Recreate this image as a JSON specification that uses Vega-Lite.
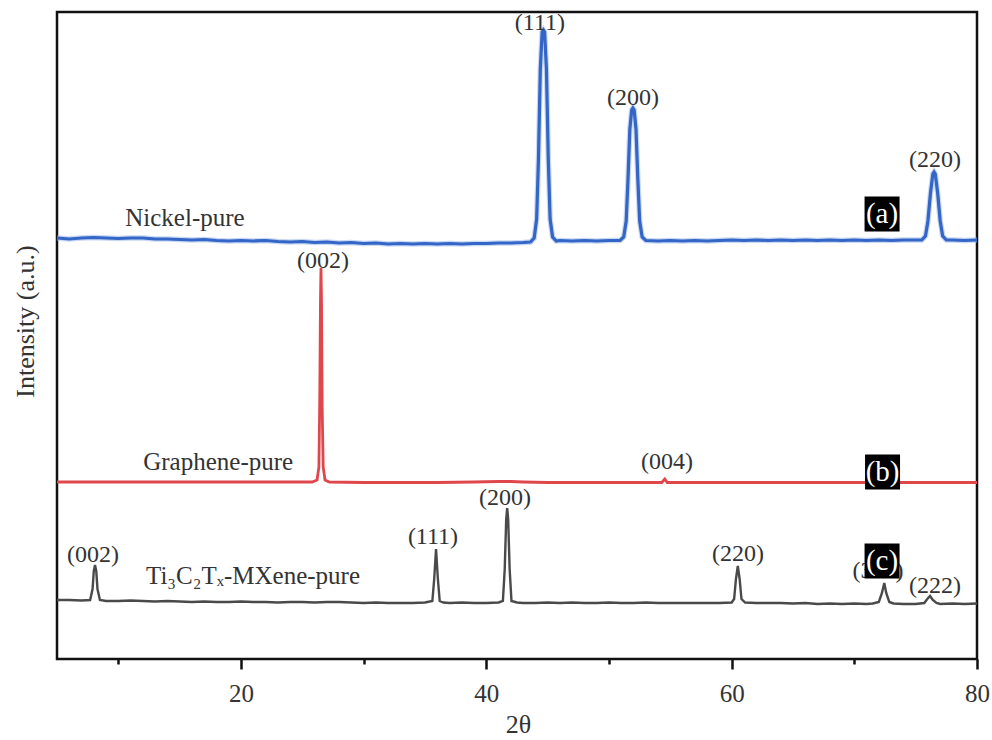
{
  "$schema": "https://vega.github.io/schema/vega-lite/v6.json",
  "width": 920,
  "height": 647,
  "autosize": {"type": "none"},
  "padding": {"left": 57, "top": 12, "right": 15, "bottom": 81},
  "background": "white",
  "config": {"view": {"stroke": "#111", "strokeWidth": 2.5}, "axis": {"grid": false}},
  "datasets": {
    "xrd": [
      {"series":"Nickel-pure","t":5,"I":421},{"series":"Nickel-pure","t":6,"I":420},{"series":"Nickel-pure","t":7,"I":421},{"series":"Nickel-pure","t":8,"I":421.5},{"series":"Nickel-pure","t":9,"I":421},{"series":"Nickel-pure","t":10,"I":420.5},{"series":"Nickel-pure","t":11,"I":421},{"series":"Nickel-pure","t":12,"I":421},{"series":"Nickel-pure","t":13,"I":420},{"series":"Nickel-pure","t":14,"I":420},{"series":"Nickel-pure","t":15,"I":419.5},{"series":"Nickel-pure","t":16,"I":419},{"series":"Nickel-pure","t":17,"I":419.5},{"series":"Nickel-pure","t":18,"I":418.5},{"series":"Nickel-pure","t":19,"I":418},{"series":"Nickel-pure","t":20,"I":418.5},{"series":"Nickel-pure","t":21,"I":418},{"series":"Nickel-pure","t":22,"I":418.5},{"series":"Nickel-pure","t":23,"I":417.5},{"series":"Nickel-pure","t":24,"I":417},{"series":"Nickel-pure","t":25,"I":417.5},{"series":"Nickel-pure","t":26,"I":416.5},{"series":"Nickel-pure","t":27,"I":417},{"series":"Nickel-pure","t":28,"I":416},{"series":"Nickel-pure","t":29,"I":416.5},{"series":"Nickel-pure","t":30,"I":415.5},{"series":"Nickel-pure","t":31,"I":416},{"series":"Nickel-pure","t":32,"I":415},{"series":"Nickel-pure","t":33,"I":415.5},{"series":"Nickel-pure","t":34,"I":415},{"series":"Nickel-pure","t":35,"I":415.5},{"series":"Nickel-pure","t":36,"I":415},{"series":"Nickel-pure","t":37,"I":415.5},{"series":"Nickel-pure","t":38,"I":415},{"series":"Nickel-pure","t":39,"I":415.5},{"series":"Nickel-pure","t":40,"I":415.5},{"series":"Nickel-pure","t":41,"I":416},{"series":"Nickel-pure","t":42,"I":416},{"series":"Nickel-pure","t":43,"I":416.5},{"series":"Nickel-pure","t":43.6,"I":417},{"series":"Nickel-pure","t":43.9,"I":421},{"series":"Nickel-pure","t":44.1,"I":440},{"series":"Nickel-pure","t":44.25,"I":500},{"series":"Nickel-pure","t":44.4,"I":590},{"series":"Nickel-pure","t":44.55,"I":627},{"series":"Nickel-pure","t":44.65,"I":629},{"series":"Nickel-pure","t":44.75,"I":627},{"series":"Nickel-pure","t":44.9,"I":590},{"series":"Nickel-pure","t":45.05,"I":500},{"series":"Nickel-pure","t":45.2,"I":440},{"series":"Nickel-pure","t":45.4,"I":422},{"series":"Nickel-pure","t":45.7,"I":418},{"series":"Nickel-pure","t":46,"I":418.5},{"series":"Nickel-pure","t":47,"I":418},{"series":"Nickel-pure","t":48,"I":418.5},{"series":"Nickel-pure","t":49,"I":418},{"series":"Nickel-pure","t":50,"I":418.5},{"series":"Nickel-pure","t":50.9,"I":418.5},{"series":"Nickel-pure","t":51.2,"I":422},{"series":"Nickel-pure","t":51.4,"I":438},{"series":"Nickel-pure","t":51.55,"I":480},{"series":"Nickel-pure","t":51.7,"I":530},{"series":"Nickel-pure","t":51.85,"I":549},{"series":"Nickel-pure","t":51.95,"I":551},{"series":"Nickel-pure","t":52.05,"I":549},{"series":"Nickel-pure","t":52.2,"I":530},{"series":"Nickel-pure","t":52.35,"I":480},{"series":"Nickel-pure","t":52.5,"I":438},{"series":"Nickel-pure","t":52.7,"I":422},{"series":"Nickel-pure","t":53,"I":418.5},{"series":"Nickel-pure","t":54,"I":418},{"series":"Nickel-pure","t":55,"I":418.5},{"series":"Nickel-pure","t":56,"I":418},{"series":"Nickel-pure","t":57,"I":418.5},{"series":"Nickel-pure","t":58,"I":418},{"series":"Nickel-pure","t":59,"I":418.5},{"series":"Nickel-pure","t":60,"I":419},{"series":"Nickel-pure","t":61,"I":418.5},{"series":"Nickel-pure","t":62,"I":419},{"series":"Nickel-pure","t":63,"I":418.5},{"series":"Nickel-pure","t":64,"I":419},{"series":"Nickel-pure","t":65,"I":418.5},{"series":"Nickel-pure","t":66,"I":419},{"series":"Nickel-pure","t":67,"I":418.5},{"series":"Nickel-pure","t":68,"I":419},{"series":"Nickel-pure","t":69,"I":418.5},{"series":"Nickel-pure","t":70,"I":419},{"series":"Nickel-pure","t":71,"I":418.5},{"series":"Nickel-pure","t":72,"I":419},{"series":"Nickel-pure","t":73,"I":418.5},{"series":"Nickel-pure","t":74,"I":419},{"series":"Nickel-pure","t":75,"I":419},{"series":"Nickel-pure","t":75.5,"I":419},{"series":"Nickel-pure","t":75.8,"I":423},{"series":"Nickel-pure","t":76,"I":438},{"series":"Nickel-pure","t":76.2,"I":465},{"series":"Nickel-pure","t":76.4,"I":485},{"series":"Nickel-pure","t":76.5,"I":487},{"series":"Nickel-pure","t":76.6,"I":485},{"series":"Nickel-pure","t":76.8,"I":465},{"series":"Nickel-pure","t":77,"I":438},{"series":"Nickel-pure","t":77.2,"I":423},{"series":"Nickel-pure","t":77.5,"I":419},{"series":"Nickel-pure","t":78,"I":419},{"series":"Nickel-pure","t":79,"I":418.5},{"series":"Nickel-pure","t":80,"I":419},
      {"series":"Graphene-pure","t":5,"I":177},{"series":"Graphene-pure","t":8,"I":177},{"series":"Graphene-pure","t":10,"I":177},{"series":"Graphene-pure","t":12,"I":177},{"series":"Graphene-pure","t":15,"I":177},{"series":"Graphene-pure","t":18,"I":177},{"series":"Graphene-pure","t":20,"I":177},{"series":"Graphene-pure","t":22,"I":177},{"series":"Graphene-pure","t":24,"I":177},{"series":"Graphene-pure","t":25.8,"I":177},{"series":"Graphene-pure","t":26.2,"I":179},{"series":"Graphene-pure","t":26.35,"I":192},{"series":"Graphene-pure","t":26.42,"I":260},{"series":"Graphene-pure","t":26.48,"I":360},{"series":"Graphene-pure","t":26.52,"I":391},{"series":"Graphene-pure","t":26.56,"I":360},{"series":"Graphene-pure","t":26.62,"I":250},{"series":"Graphene-pure","t":26.7,"I":192},{"series":"Graphene-pure","t":26.85,"I":179},{"series":"Graphene-pure","t":27.2,"I":177},{"series":"Graphene-pure","t":30,"I":176.5},{"series":"Graphene-pure","t":33,"I":176.5},{"series":"Graphene-pure","t":36,"I":176.5},{"series":"Graphene-pure","t":39,"I":177},{"series":"Graphene-pure","t":41,"I":177.5},{"series":"Graphene-pure","t":42,"I":177.5},{"series":"Graphene-pure","t":43,"I":177},{"series":"Graphene-pure","t":45,"I":176.5},{"series":"Graphene-pure","t":48,"I":176.5},{"series":"Graphene-pure","t":51,"I":176.5},{"series":"Graphene-pure","t":54.3,"I":176.5},{"series":"Graphene-pure","t":54.55,"I":180},{"series":"Graphene-pure","t":54.75,"I":176.5},{"series":"Graphene-pure","t":58,"I":176.5},{"series":"Graphene-pure","t":62,"I":176.5},{"series":"Graphene-pure","t":66,"I":176.5},{"series":"Graphene-pure","t":70,"I":176.5},{"series":"Graphene-pure","t":74,"I":176.5},{"series":"Graphene-pure","t":77,"I":176.5},{"series":"Graphene-pure","t":80,"I":176.5},
      {"series":"MXene","t":5,"I":59},{"series":"MXene","t":6,"I":59},{"series":"MXene","t":7,"I":58.5},{"series":"MXene","t":7.7,"I":59},{"series":"MXene","t":7.9,"I":70},{"series":"MXene","t":8.0,"I":88},{"series":"MXene","t":8.1,"I":94},{"series":"MXene","t":8.2,"I":88},{"series":"MXene","t":8.3,"I":70},{"series":"MXene","t":8.5,"I":59},{"series":"MXene","t":9,"I":58},{"series":"MXene","t":10,"I":58},{"series":"MXene","t":11,"I":58.5},{"series":"MXene","t":12,"I":58},{"series":"MXene","t":13,"I":57.5},{"series":"MXene","t":14,"I":58},{"series":"MXene","t":15,"I":57.5},{"series":"MXene","t":16,"I":57},{"series":"MXene","t":17,"I":57.5},{"series":"MXene","t":18,"I":57},{"series":"MXene","t":19,"I":57},{"series":"MXene","t":20,"I":57.5},{"series":"MXene","t":21,"I":57},{"series":"MXene","t":22,"I":57},{"series":"MXene","t":23,"I":56.5},{"series":"MXene","t":24,"I":57},{"series":"MXene","t":25,"I":57},{"series":"MXene","t":26,"I":56.5},{"series":"MXene","t":27,"I":57},{"series":"MXene","t":28,"I":57},{"series":"MXene","t":29,"I":56.5},{"series":"MXene","t":30,"I":56},{"series":"MXene","t":31,"I":56.5},{"series":"MXene","t":32,"I":56},{"series":"MXene","t":33,"I":56},{"series":"MXene","t":34,"I":56},{"series":"MXene","t":35,"I":56.5},{"series":"MXene","t":35.6,"I":58},{"series":"MXene","t":35.75,"I":80},{"series":"MXene","t":35.9,"I":110},{"series":"MXene","t":36.05,"I":80},{"series":"MXene","t":36.2,"I":58},{"series":"MXene","t":36.5,"I":56.5},{"series":"MXene","t":37,"I":56},{"series":"MXene","t":38,"I":56.5},{"series":"MXene","t":39,"I":56},{"series":"MXene","t":40,"I":56},{"series":"MXene","t":41,"I":56.5},{"series":"MXene","t":41.35,"I":58},{"series":"MXene","t":41.5,"I":90},{"series":"MXene","t":41.62,"I":140},{"series":"MXene","t":41.7,"I":151},{"series":"MXene","t":41.78,"I":140},{"series":"MXene","t":41.9,"I":90},{"series":"MXene","t":42.05,"I":58},{"series":"MXene","t":42.5,"I":56.5},{"series":"MXene","t":43,"I":56},{"series":"MXene","t":44,"I":56},{"series":"MXene","t":45,"I":56.5},{"series":"MXene","t":46,"I":56},{"series":"MXene","t":47,"I":56.5},{"series":"MXene","t":48,"I":56},{"series":"MXene","t":49,"I":56},{"series":"MXene","t":50,"I":56.5},{"series":"MXene","t":51,"I":56},{"series":"MXene","t":52,"I":56},{"series":"MXene","t":53,"I":56.5},{"series":"MXene","t":54,"I":56},{"series":"MXene","t":55,"I":56},{"series":"MXene","t":56,"I":56},{"series":"MXene","t":57,"I":56},{"series":"MXene","t":58,"I":56},{"series":"MXene","t":59,"I":56},{"series":"MXene","t":60,"I":56.5},{"series":"MXene","t":60.2,"I":60},{"series":"MXene","t":60.35,"I":80},{"series":"MXene","t":60.5,"I":93},{"series":"MXene","t":60.65,"I":80},{"series":"MXene","t":60.8,"I":60},{"series":"MXene","t":61.1,"I":56.5},{"series":"MXene","t":62,"I":56},{"series":"MXene","t":63,"I":56},{"series":"MXene","t":64,"I":56},{"series":"MXene","t":65,"I":55.5},{"series":"MXene","t":66,"I":56},{"series":"MXene","t":67,"I":55},{"series":"MXene","t":68,"I":55.5},{"series":"MXene","t":69,"I":55},{"series":"MXene","t":70,"I":55.5},{"series":"MXene","t":71,"I":55},{"series":"MXene","t":71.5,"I":55.5},{"series":"MXene","t":72.0,"I":57},{"series":"MXene","t":72.25,"I":66},{"series":"MXene","t":72.44,"I":76},{"series":"MXene","t":72.6,"I":66},{"series":"MXene","t":72.85,"I":57},{"series":"MXene","t":73.2,"I":55.5},{"series":"MXene","t":74,"I":55},{"series":"MXene","t":75,"I":55},{"series":"MXene","t":75.7,"I":56},{"series":"MXene","t":75.95,"I":60},{"series":"MXene","t":76.17,"I":63},{"series":"MXene","t":76.4,"I":59},{"series":"MXene","t":76.7,"I":56},{"series":"MXene","t":77,"I":55},{"series":"MXene","t":78,"I":55.5},{"series":"MXene","t":79,"I":55},{"series":"MXene","t":80,"I":55.5}
    ],
    "peaks": [
      {"t":44.37,"I":636,"label":"(111)"},{"t":51.95,"I":561,"label":"(200)"},{"t":76.57,"I":499,"label":"(220)"},
      {"t":26.68,"I":398,"label":"(002)"},{"t":54.73,"I":197,"label":"(004)"},
      {"t":7.93,"I":104,"label":"(002)"},{"t":35.65,"I":122,"label":"(111)"},{"t":41.53,"I":161,"label":"(200)"},{"t":60.52,"I":105,"label":"(220)"},{"t":71.93,"I":88,"label":"(311)"},{"t":76.58,"I":73,"label":"(222)"}
    ],
    "names": [
      {"t":15.43,"I":441,"label":"Nickel-pure"},{"t":18.14,"I":197,"label":"Graphene-pure"},{"t":20.98,"I":83,"label":"Ti₃C₂Tₓ-MXene-pure"}
    ],
    "boxes": [
      {"t":72.26,"I":445,"label":"(a)"},{"t":72.3,"I":187,"label":"(b)"},{"t":72.26,"I":98,"label":"(c)"}
    ]
  },
  "resolve": {"axis": {"x": "independent", "y": "independent"}},
  "layer": [
    {
      "data": {"name": "xrd"},
      "transform": [{"filter": "datum.series === 'Nickel-pure'"}],
      "mark": {"type": "line", "color": "#9db8ea", "strokeWidth": 5.5, "opacity": 0.55},
      "encoding": {
        "x": {"field": "t", "type": "quantitative", "scale": {"domain": [5, 80], "nice": false, "zero": false},
          "axis": {"orient": "bottom", "values": [10, 30, 50, 70], "labels": false, "domain": false, "ticks": true, "tickSize": 5, "tickWidth": 2.5, "tickColor": "#111", "title": null, "grid": false}},
        "y": {"field": "I", "type": "quantitative", "scale": {"domain": [0, 647], "nice": false, "zero": false}, "axis": null}
      }
    },
    {
      "data": {"name": "xrd"},
      "mark": {"type": "line"},
      "encoding": {
        "x": {"field": "t", "type": "quantitative", "scale": {"domain": [5, 80], "nice": false, "zero": false},
          "axis": {"orient": "bottom", "values": [20, 40, 60, 80], "domain": false, "tickSize": 10, "tickWidth": 2.5, "tickColor": "#111", "labelFlush": false,
            "labelFont": "Liberation Serif", "labelFontSize": 25, "labelColor": "#333", "labelPadding": 24, "labelBaseline": "middle",
            "title": "2θ", "titleFont": "Liberation Serif", "titleFontSize": 26, "titleFontWeight": "normal", "titleColor": "#333",
            "titleX": 461, "titleY": 65, "titleBaseline": "middle", "titleAlign": "center", "grid": false}},
        "y": {"field": "I", "type": "quantitative", "scale": {"domain": [0, 647], "nice": false, "zero": false},
          "axis": {"orient": "left", "ticks": false, "labels": false, "domain": false, "grid": false, "title": "Intensity (a.u.)",
            "titleFont": "Liberation Serif", "titleFontSize": 26, "titleFontWeight": "normal", "titleColor": "#333",
            "titleX": -32, "titleY": 309, "titleAngle": 270, "titleBaseline": "middle", "titleAlign": "center"}},
        "color": {"field": "series", "type": "nominal", "scale": {"domain": ["Nickel-pure", "Graphene-pure", "MXene"], "range": ["#3366c6", "#e0474c", "#4a4a4a"]}, "legend": null},
        "strokeWidth": {"field": "series", "type": "nominal", "scale": {"domain": ["Nickel-pure", "Graphene-pure", "MXene"], "range": [3.2, 2.4, 2.4]}, "legend": null}
      }
    },
    {
      "data": {"name": "peaks"},
      "mark": {"type": "text", "font": "Liberation Serif", "fontSize": 24, "color": "#333", "align": "center", "baseline": "middle"},
      "encoding": {
        "x": {"field": "t", "type": "quantitative", "axis": null},
        "y": {"field": "I", "type": "quantitative", "axis": null},
        "text": {"field": "label"}
      }
    },
    {
      "data": {"name": "names"},
      "mark": {"type": "text", "font": "Liberation Serif", "fontSize": 25, "color": "#333", "align": "center", "baseline": "middle"},
      "encoding": {
        "x": {"field": "t", "type": "quantitative", "axis": null},
        "y": {"field": "I", "type": "quantitative", "axis": null},
        "text": {"field": "label"}
      }
    },
    {
      "data": {"name": "boxes"},
      "mark": {"type": "point", "shape": "square", "filled": true, "size": 1225, "color": "#000", "opacity": 1},
      "encoding": {
        "x": {"field": "t", "type": "quantitative", "axis": null},
        "y": {"field": "I", "type": "quantitative", "axis": null}
      }
    },
    {
      "data": {"name": "boxes"},
      "mark": {"type": "text", "font": "Liberation Serif", "fontSize": 29, "color": "#fff", "align": "center", "baseline": "middle"},
      "encoding": {
        "x": {"field": "t", "type": "quantitative", "axis": null},
        "y": {"field": "I", "type": "quantitative", "axis": null},
        "text": {"field": "label"}
      }
    }
  ]
}
